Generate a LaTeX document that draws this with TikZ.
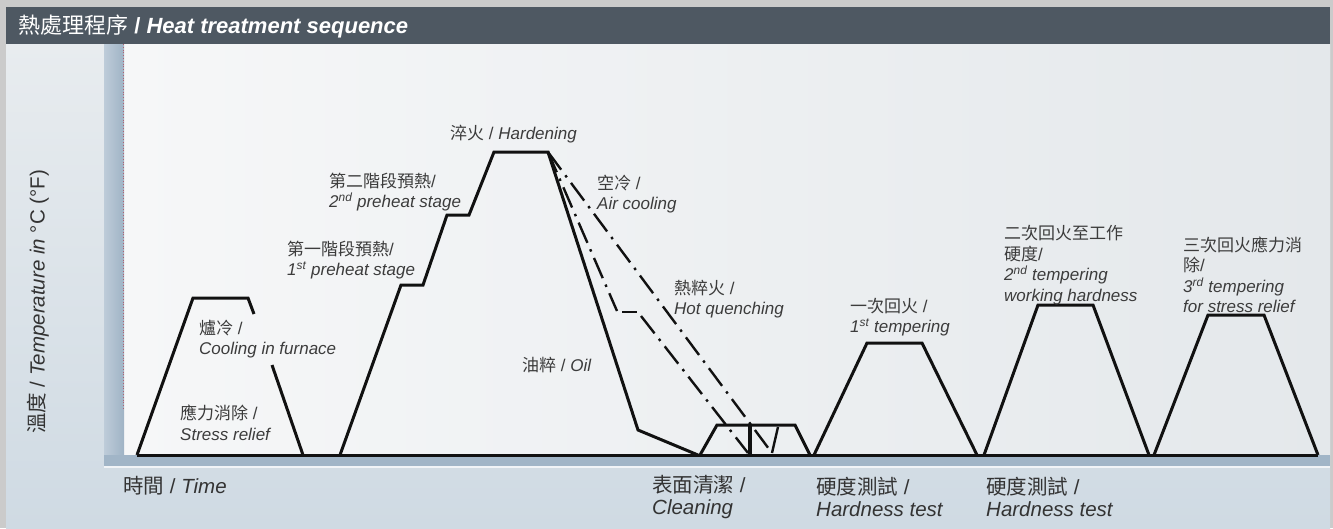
\documentclass[tikz,border=0pt]{standalone}
\usepackage{fontspec}
\setmainfont{Liberation Sans}
\newfontfamily\cjk{Noto Sans CJK TC}
\definecolor{framegray}{HTML}{CBCBCB}
\definecolor{headerc}{HTML}{4E5862}
\definecolor{paneltop}{HTML}{E8ECEF}
\definecolor{panelbot}{HTML}{CFDAE3}
\definecolor{plotl}{HTML}{F6F7F8}
\definecolor{plotr}{HTML}{E4E8EB}
\definecolor{bandl}{HTML}{BECCD9}
\definecolor{bandr}{HTML}{9FB3C5}
\definecolor{bandb}{HTML}{A1B5C7}
\definecolor{labelc}{HTML}{3C3C3C}
\definecolor{axisc}{HTML}{333333}
\definecolor{inkc}{HTML}{111111}
\definecolor{dotc}{HTML}{B06070}
\newcommand{\zhtxt}[1]{{\cjk #1}}
\begin{document}
\begin{tikzpicture}[x=1pt,y=-1pt,
  curve/.style={line width=3pt, draw=inkc, line join=miter},
  ddot/.style={line width=2.4pt, draw=inkc, dash pattern=on 22pt off 7pt on 2.5pt off 7pt},
  lbl/.style={anchor=west, align=left, inner sep=0pt, text=labelc, font=\fontsize{17}{20.5}\selectfont},
  axl/.style={anchor=west, align=left, inner sep=0pt, text=axisc, font=\fontsize{20.5}{21.5}\selectfont},
]
\useasboundingbox (0,0) rectangle (1333,528);
% backgrounds
\fill[framegray] (0,0) rectangle (1333,528);
\shade[top color=paneltop, bottom color=panelbot] (6,44) rectangle (1330,528);
\fill[headerc] (6,7) rectangle (1330,44);
\shade[left color=plotl, right color=plotr] (124,44) rectangle (1330,455);
\shade[left color=bandl, right color=bandr] (104,44) rectangle (124,455);
\fill[bandb] (104,455) rectangle (1330,466);
\fill[white!85!bandb] (104,466) rectangle (1330,468);
\draw[dotc, dotted, line width=0.8pt] (123,44) -- (123,410);
% title
\node[anchor=west, inner sep=0pt, text=white, font=\fontsize{22}{24}\selectfont] (title) at (18,26) {\zhtxt{熱處理程序} \textbf{/} \textbf{\textit{Heat treatment sequence}}};
% axis labels
\node[axl, anchor=center, rotate=90] (ylab) at (38,302) {\zhtxt{溫度} / \textit{Temperature in} °C (°F)};
\node[axl] (xlab) at (123,486) {\zhtxt{時間} / \textit{Time}};
% baseline
\draw[curve] (137,455) -- (1318,455);
% stress relief
\draw[curve] (137,455) -- (193,298) -- (248,298) -- (254,314);
\draw[curve] (272,365) -- (303,455);
% hardening main curve
\draw[curve] (340,455) -- (401,285) -- (423,285) -- (447,215) -- (469,215) -- (494,152) -- (548,152) -- (638,430) -- (698,455);
% air cooling
\draw[ddot] (548,152) -- (772,453);
\draw[curve, line width=2.4pt] (772,453) -- (778,427);
% hot quenching
\draw[ddot] (548,152) -- (617,311);
\draw[curve, line width=2.4pt] (622,312) -- (637,312);
\draw[ddot] (641,316) -- (748,453);
% cleaning trapezoid
\draw[curve] (700,455) -- (717,425) -- (795,425) -- (810,455);
\draw[curve, line width=4pt] (750,425) -- (750,455);
% temperings
\draw[curve] (814,455) -- (867,343) -- (922,343) -- (977,455);
\draw[curve] (984,455) -- (1038,305) -- (1093,305) -- (1149,455);
\draw[curve] (1154,455) -- (1208,315) -- (1264,315) -- (1318,455);
% labels
\node[lbl] (furn) at (199,339) {\zhtxt{爐冷} /\\ \textit{Cooling in furnace}};
\node[lbl] (stress) at (180,423) {\zhtxt{應力消除} /\\ \textit{Stress relief}};
\node[lbl] (pre1) at (287,260) {\zhtxt{第一階段預熱}/\\ \textit{1\textsuperscript{st} preheat stage}};
\node[lbl] (pre2) at (329,192) {\zhtxt{第二階段預熱}/\\ \textit{2\textsuperscript{nd} preheat stage}};
\node[lbl] (hard) at (450,134) {\zhtxt{淬火} / \textit{Hardening}};
\node[lbl] (air) at (597,194) {\zhtxt{空冷} /\\ \textit{Air cooling}};
\node[lbl] (hot) at (674,299) {\zhtxt{熱粹火} /\\ \textit{Hot quenching}};
\node[lbl] (oil) at (522,365) {\zhtxt{油粹} / \textit{Oil}};
\node[lbl] (temp1) at (850,317) {\zhtxt{一次回火} /\\ \textit{1\textsuperscript{st} tempering}};
\node[lbl] (temp2) at (1004,265) {\zhtxt{二次回火至工作}\\ \zhtxt{硬度}/\\ \textit{2\textsuperscript{nd} tempering}\\ \textit{working hardness}};
\node[lbl] (temp3) at (1183,275) {\zhtxt{三次回火應力消}\\ \zhtxt{除}/\\ \textit{3\textsuperscript{rd} tempering}\\ \textit{for stress relief}};
% bottom labels
\node[axl] (clean) at (652,497) {\zhtxt{表面清潔} /\\ \textit{Cleaning}};
\node[axl] (ht1) at (816,497) {\zhtxt{硬度測試} /\\ \textit{Hardness test}};
\node[axl] (ht2) at (986,497) {\zhtxt{硬度測試} /\\ \textit{Hardness test}};
\end{tikzpicture}
\end{document}
